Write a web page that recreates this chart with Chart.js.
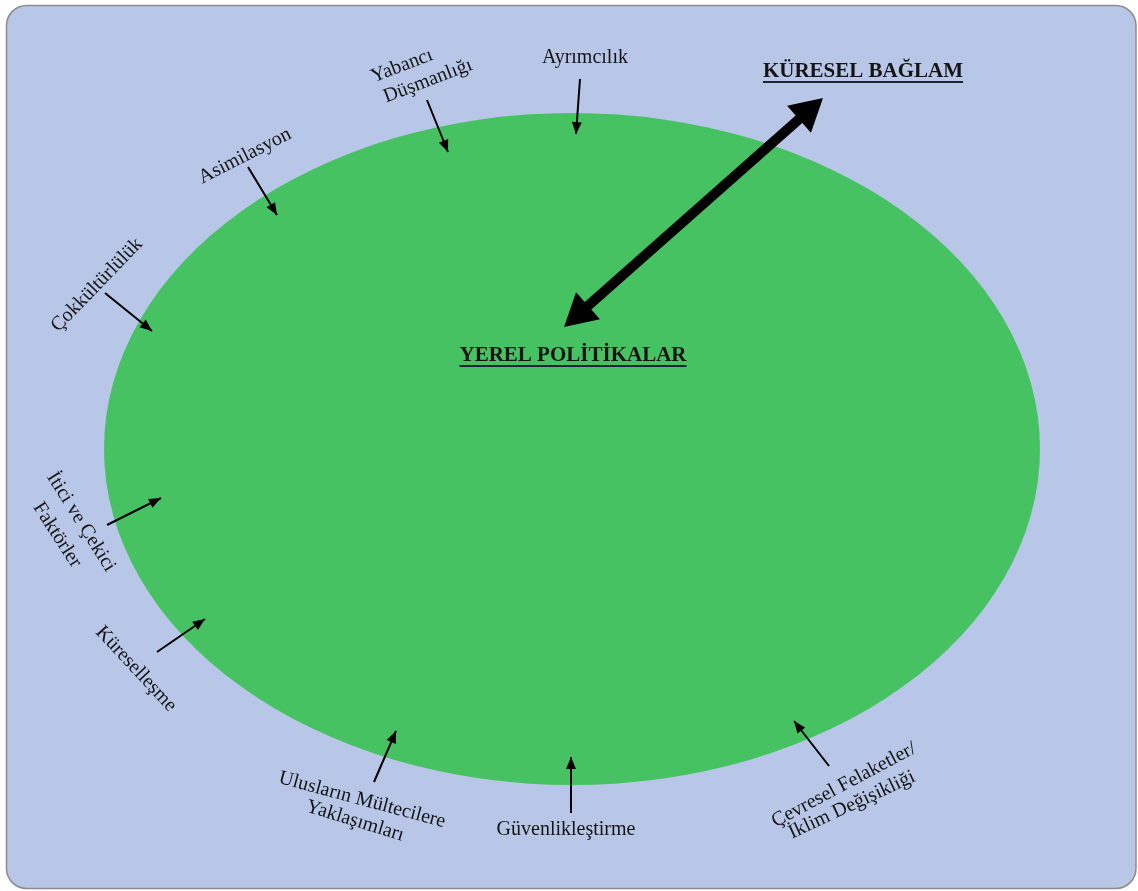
<!DOCTYPE html>
<html>
<head>
<meta charset="utf-8">
<script src="https://cdn.jsdelivr.net/npm/chart.js@4.4.1/dist/chart.umd.min.js"></script>
<style>
  html, body { margin: 0; padding: 0; background: #fff; }
  canvas { display: block; }
</style>
</head>
<body>
<canvas id="diagram" width="1138" height="891"></canvas>
<script>
// Factor labels around the ellipse (one entry per text line), in chart units
const labelLines = ['Ayrımcılık', 'Yabancı', 'Düşmanlığı', 'Asimilasyon', 'Çokkültürlülük',
  'İtici ve Çekici', 'Faktörler', 'Küreselleşme', 'Ulusların Mültecilere', 'Yaklaşımları',
  'Güvenlikleştirme', 'Çevresel Felaketler/', 'İklim Değişikliği'];
const labelX = [585, 402, 428, 245, 97, 81, 57, 136, 362, 355, 566, 844, 852];
const labelY = [58, 66, 81, 156, 285, 522, 535, 669, 800, 821, 830, 785, 805];
const labelAngle = [0, -21, -21, -27, -46, 58, 57, 47, 15, 17, 0, -28, -25];

// Small arrows: tail -> tip
const arrowFromX = [580, 427, 248, 105, 107, 157, 374, 571, 829];
const arrowFromY = [79, 100, 167, 293, 525, 652, 782, 813, 766];
const arrowToX = [576, 448, 277, 152, 161, 205, 396, 571, 794];
const arrowToY = [134, 152, 215, 331, 498, 619, 731, 757, 721];

// Double arrow between local and global
const bigArrowX = [564, 823];
const bigArrowY = [327, 98];

// Headings (baseline position)
const headings = ['KÜRESEL BAĞLAM', 'YEREL POLİTİKALAR'];
const headingX = [863, 573];
const headingY = [77, 361];

// Ellipse: centre and radii
const ellipseCenter = [572, 449];
const ellipseRadius = [468, 336];

const FONT = '"Liberation Serif", "Times New Roman", serif';
const TEXT_COLOR = '#141414';

const datasets = arrowFromX.map((x, i) => ({
  data: [{ x: x, y: arrowFromY[i] }, { x: arrowToX[i], y: arrowToY[i] }],
  showLine: true,
  pointRadius: 0,
  borderColor: '#000',
  borderWidth: 2,
  arrowHead: { len: 12, half: 5 }
}));
datasets.push({
  data: bigArrowX.map((x, i) => ({ x: x, y: bigArrowY[i] })),
  showLine: true,
  pointRadius: 0,
  borderColor: '#000',
  borderWidth: 10,
  borderCapStyle: 'butt',
  arrowHead: { len: 32, half: 18, both: true }
});

function headPoly(ctx, tip, from, len, half) {
  const a = Math.atan2(tip.y - from.y, tip.x - from.x);
  const bx = tip.x - Math.cos(a) * len, by = tip.y - Math.sin(a) * len;
  ctx.beginPath();
  ctx.moveTo(tip.x, tip.y);
  ctx.lineTo(bx + Math.sin(a) * half, by - Math.cos(a) * half);
  ctx.lineTo(bx - Math.sin(a) * half, by + Math.cos(a) * half);
  ctx.closePath();
  ctx.fill();
}

const diagramPlugin = {
  id: 'diagram',
  beforeDraw(chart) {
    const ctx = chart.ctx;
    ctx.save();
    ctx.fillStyle = '#fff';
    ctx.fillRect(0, 0, chart.width, chart.height);
    ctx.beginPath();
    ctx.roundRect(6.5, 5.5, 1129.5, 883, 20);
    ctx.fillStyle = '#b8c7e8';
    ctx.fill();
    ctx.lineWidth = 1.5;
    ctx.strokeStyle = '#8c8c8c';
    ctx.stroke();
    ctx.restore();
  },
  beforeDatasetsDraw(chart) {
    const { ctx, scales: { x, y } } = chart;
    const cx = x.getPixelForValue(ellipseCenter[0]);
    const cy = y.getPixelForValue(ellipseCenter[1]);
    const rx = x.getPixelForValue(ellipseCenter[0] + ellipseRadius[0]) - cx;
    const ry = y.getPixelForValue(ellipseCenter[1] + ellipseRadius[1]) - cy;
    ctx.save();
    ctx.beginPath();
    ctx.ellipse(cx, cy, Math.abs(rx), Math.abs(ry), 0, 0, Math.PI * 2);
    ctx.fillStyle = '#47c263';
    ctx.fill();
    ctx.restore();
  },
  beforeDatasetDraw(chart, args) {
    const ds = chart.data.datasets[args.index];
    if (!ds.arrowHead.both) return;
    // keep the thick shaft inside the two heads
    const [p0, p1] = args.meta.data;
    const a = Math.atan2(p1.y - p0.y, p1.x - p0.x);
    const L = ds.arrowHead.len - 2, W = 40;
    const b0 = { x: p0.x + Math.cos(a) * L, y: p0.y + Math.sin(a) * L };
    const b1 = { x: p1.x - Math.cos(a) * L, y: p1.y - Math.sin(a) * L };
    const nx = -Math.sin(a) * W, ny = Math.cos(a) * W;
    const ctx = chart.ctx;
    ctx.save();
    ctx.beginPath();
    ctx.moveTo(b0.x + nx, b0.y + ny);
    ctx.lineTo(b1.x + nx, b1.y + ny);
    ctx.lineTo(b1.x - nx, b1.y - ny);
    ctx.lineTo(b0.x - nx, b0.y - ny);
    ctx.closePath();
    ctx.clip();
  },
  afterDatasetDraw(chart, args) {
    const ds = chart.data.datasets[args.index];
    if (ds.arrowHead.both) chart.ctx.restore();
  },
  afterDatasetsDraw(chart) {
    const { ctx, scales: { x, y } } = chart;
    ctx.save();
    ctx.fillStyle = '#000';
    chart.data.datasets.forEach((ds, i) => {
      const [p0, p1] = chart.getDatasetMeta(i).data;
      headPoly(ctx, p1, p0, ds.arrowHead.len, ds.arrowHead.half);
      if (ds.arrowHead.both) headPoly(ctx, p0, p1, ds.arrowHead.len, ds.arrowHead.half);
    });

    ctx.fillStyle = TEXT_COLOR;
    ctx.font = '20px ' + FONT;
    ctx.textAlign = 'center';
    ctx.textBaseline = 'middle';
    labelLines.forEach((t, i) => {
      ctx.save();
      ctx.translate(x.getPixelForValue(labelX[i]), y.getPixelForValue(labelY[i]));
      ctx.rotate(labelAngle[i] * Math.PI / 180);
      ctx.fillText(t, 0, 0);
      ctx.restore();
    });

    ctx.font = 'bold 21px ' + FONT;
    ctx.textBaseline = 'alphabetic';
    headings.forEach((t, i) => {
      const px = x.getPixelForValue(headingX[i]);
      const py = y.getPixelForValue(headingY[i]);
      ctx.fillStyle = TEXT_COLOR;
      ctx.fillText(t, px, py);
      const w = ctx.measureText(t).width;
      ctx.fillStyle = '#1d2436';
      ctx.fillRect(px - w / 2, py + 4, w, 2);
    });
    ctx.restore();
  }
};

new Chart(document.getElementById('diagram'), {
  type: 'scatter',
  data: { datasets: datasets },
  options: {
    responsive: false,
    animation: false,
    layout: { padding: 0 },
    plugins: { legend: { display: false }, tooltip: { enabled: false } },
    scales: {
      x: { type: 'linear', min: 0, max: 1138, display: false },
      y: { type: 'linear', min: 0, max: 891, reverse: true, display: false }
    }
  },
  plugins: [diagramPlugin]
});
</script>
</body>
</html>
